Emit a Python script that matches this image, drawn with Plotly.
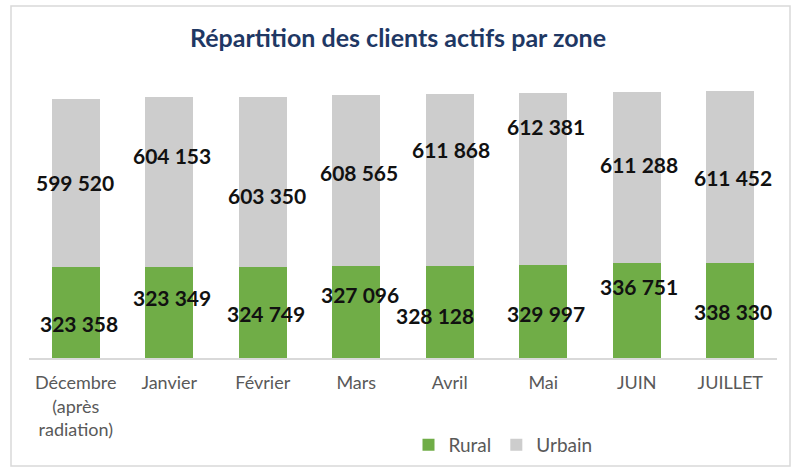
import plotly.graph_objects as go

categories = ["Décembre<br>(après<br>radiation)", "Janvier", "Février", "Mars", "Avril", "Mai", "JUIN", "JUILLET"]
rural = [323358, 323349, 324749, 327096, 328128, 329997, 336751, 338330]
urbain = [599520, 604153, 603350, 608565, 611868, 612381, 611288, 611452]

# label placement offsets (pixels) relative to segment middle
rural_dx = [3, 2.5, 3, 3.5, -15, 2.5, 2, 2.5]
rural_dy = [-10.5, 15.5, -1.5, 17.5, -3.5, -2, 24, -1.5]
urb_dx = [-1, 2.5, 4, 2.5, 1, 2.5, 2, 2.5]
urb_dy = [0, 26.5, -14, 8, 30, 52.8, 12.7, -0.7]

GREEN = "#70AD47"
GREY = "#CDCDCD"
FONT = "Lato, 'Open Sans', sans-serif"

W, H = 796, 467
ML, MR, MT, MB = 29, 19, 77, 109

def fmt(v):
    return f"{v:,}".replace(",", " ")

fig = go.Figure()
fig.add_trace(go.Bar(x=categories, y=rural, name="Rural", marker_color=GREEN, marker_line_width=0))
fig.add_trace(go.Bar(x=categories, y=urbain, name="Urbain", marker_color=GREY, marker_line_width=0))

label_font = dict(family=FONT, size=21, color="#111111")
ann = []
for i, c in enumerate(categories):
    ann.append(dict(x=c, y=rural[i] / 2, text="<b>" + fmt(rural[i]) + "</b>", showarrow=False,
                    xshift=rural_dx[i], yshift=rural_dy[i], font=label_font))
    ann.append(dict(x=c, y=rural[i] + urbain[i] / 2, text="<b>" + fmt(urbain[i]) + "</b>", showarrow=False,
                    xshift=urb_dx[i], yshift=urb_dy[i], font=label_font))

pw = W - ML - MR
ph = H - MT - MB
def px_to_paper_x(px):
    return (px - ML) / pw
def px_to_paper_y(py):
    return (H - MB - py) / ph

fig.update_layout(
    width=W, height=H,
    margin=dict(l=ML, r=MR, t=MT, b=MB, autoexpand=False),
    barmode="stack",
    bargap=0.49,
    plot_bgcolor="white",
    paper_bgcolor="white",
    title=dict(text="<b>Répartition des clients actifs par zone</b>", x=0.5, xanchor="center",
               y=1 - 38 / H, yanchor="middle", yref="container",
               font=dict(family=FONT, size=25, color="#1F3864")),
    xaxis=dict(showline=True, linecolor="#D9D9D9", linewidth=1.5, ticks="", showgrid=False,
               ticklabelstandoff=8, automargin=False,
               tickfont=dict(family=FONT, size=18, color="#595959")),
    yaxis=dict(range=[0, 1000000], visible=False, showgrid=False, automargin=False),
    legend=dict(orientation="h", x=px_to_paper_x(503), xanchor="center", y=px_to_paper_y(445), yanchor="middle",
                font=dict(family=FONT, size=19, color="#595959"),
                traceorder="normal"),
    annotations=ann,
    shapes=[dict(type="rect", xref="paper", yref="paper",
                 x0=px_to_paper_x(11), x1=px_to_paper_x(790), y0=px_to_paper_y(466), y1=px_to_paper_y(6),
                 line=dict(color="#D9D9D9", width=1.5), fillcolor="rgba(0,0,0,0)", layer="below")],
)

fig.write_html("out.html", config={"displayModeBar": False},
               post_script="document.body.style.margin='0';document.body.style.padding='0';")
